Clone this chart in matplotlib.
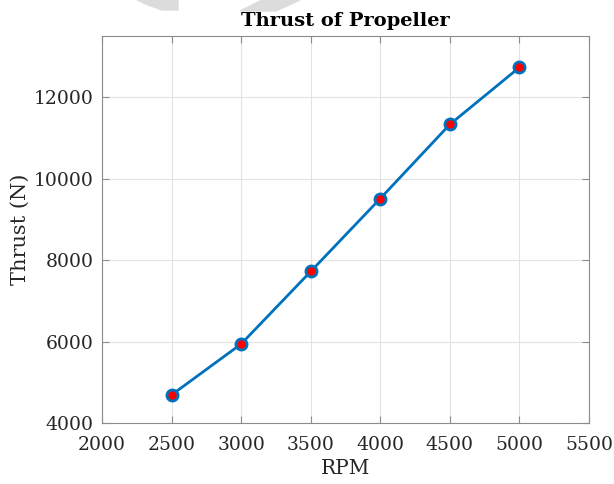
import matplotlib
matplotlib.use('Agg')
import matplotlib.pyplot as plt
from matplotlib.patches import Polygon

rpm = [2500, 3000, 3500, 4000, 4500, 5000]
thrust = [4690, 5940, 7720, 9510, 11330, 12730]
xticks = [2000, 2500, 3000, 3500, 4000, 4500, 5000, 5500]
yticks = [4000, 6000, 8000, 10000, 12000]

plt.rcParams['font.family'] = ['DejaVu Serif']

W, H = 614, 484
fig = plt.figure(figsize=(W / 100, H / 100), dpi=100)

# faint grey scraps at the top edge (watermark remains in the source image)
def px(pts):
    return [(x / W, 1 - y / H) for x, y in pts]
fig.patches.append(Polygon(px([(137, 0), (178, 0), (178, 10), (162, 10), (148, 5)]),
                           closed=True, transform=fig.transFigure, color='#dcdcdc', zorder=0))
fig.patches.append(Polygon(px([(262, 0), (300, 0), (276, 11), (240, 11)]),
                           closed=True, transform=fig.transFigure, color='#dcdcdc', zorder=0))

ax = fig.add_axes([102 / W, 1 - 423 / H, 487 / W, 387 / H])

ax.plot(rpm, thrust, color='#0072BD', linewidth=2, marker='o', markersize=8,
        markerfacecolor='red', markeredgecolor='#0072BD', markeredgewidth=2, zorder=3)

ax.set_xlim(2000, 5500)
ax.set_ylim(4000, 13500)
ax.set_xticks(xticks)
ax.set_yticks(yticks)
ax.grid(True, color='#e3e3e3', linewidth=0.8)
ax.tick_params(direction='in', top=True, right=True, labelsize=13.5, colors='#8c8c8c',
               labelcolor='#262626', length=5)
ax.tick_params(axis='x', pad=9)
ax.tick_params(axis='y', pad=6)
for s in ax.spines.values():
    s.set_color('#8c8c8c')

ax.set_xlabel('RPM', fontsize=14.5, color='#262626', labelpad=4)
ax.set_ylabel('Thrust (N)', fontsize=15, color='#262626', labelpad=3)
ax.set_title('Thrust of Propeller', fontsize=14, fontweight='bold', pad=7)

fig.savefig('out.png', dpi=100)
